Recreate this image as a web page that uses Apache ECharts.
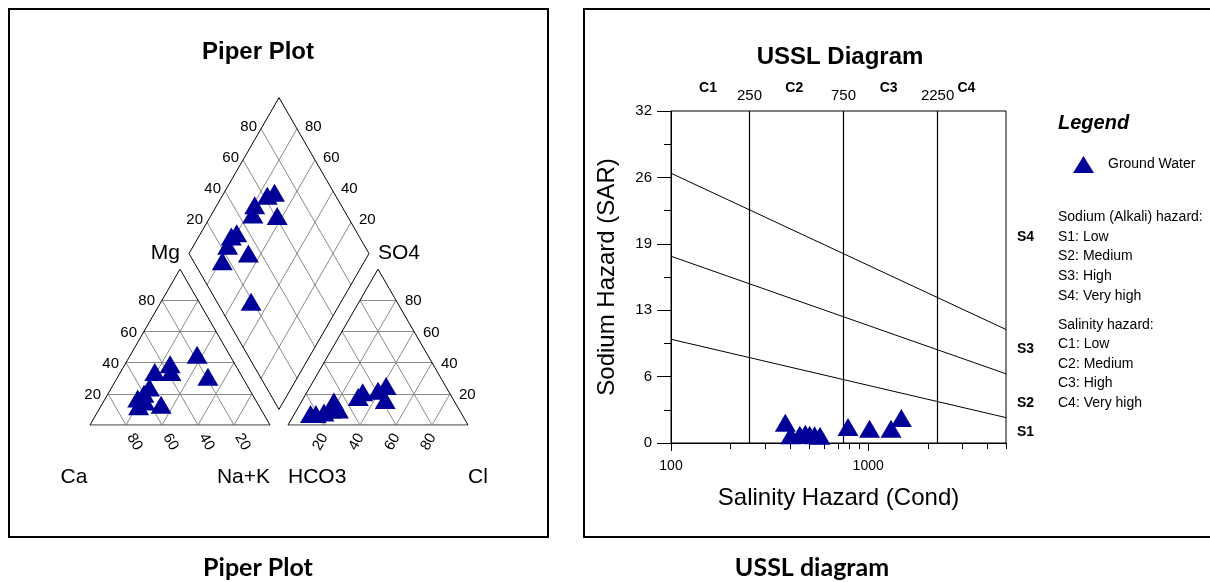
<!DOCTYPE html>
<html>
<head>
<meta charset="utf-8">
<script src="https://cdn.jsdelivr.net/npm/echarts@6/dist/echarts.min.js"></script>
<style>
  html, body { margin: 0; padding: 0; background: #fff; }
  #chart { width: 1210px; height: 582px; }
</style>
</head>
<body>
<div id="chart"></div>
<script>
// ---- Piper plot: ion percentages (meq %) per groundwater sample ----
const ca   = [38, 36, 55, 62, 18, 60, 65, 47, 54, 67, 19];
const mg   = [34, 39, 24, 15, 45, 20, 17, 34, 13, 12, 31];
const naK  = [28, 25, 21, 23, 37, 20, 18, 19, 33, 21, 50];
const hco3 = [33, 38, 48, 52, 39, 67, 71, 76, 67, 84, 81];
const so4  = [25, 16, 21, 18, 22, 10, 10,  8, 15,  7,  7];
const cl   = [42, 46, 31, 30, 39, 23, 19, 16, 18,  9, 12];
const piperTicks = [20, 40, 60, 80];
const ionNames = { ca: 'Ca', mg: 'Mg', naK: 'Na+K', hco3: 'HCO3', so4: 'SO4', cl: 'Cl' };

// ---- USSL diagram: conductivity (µS/cm) and SAR per sample ----
const ec  = [380, 405, 450, 480, 505, 535, 570, 790, 1016, 1306, 1473];
const sar = [1.95, 0.75, 0.8, 0.9, 0.8, 0.75, 0.7, 1.54, 1.38, 1.38, 2.4];
const sarLabelTicks = [0, 6.4, 12.8, 19.2, 25.6, 32];
const ecLabelled = [100, 1000];
const ecMinorTicks = [200, 300, 400, 500, 600, 700, 800, 900, 2000, 3000, 4000, 5000];
const salinityBounds = [250, 750, 2250];
const salinityClasses = ['C1', 'C2', 'C3', 'C4'];
const salinityClassAt = [154, 422, 1270, 3150];
// sodium hazard class boundaries: SAR at EC = 100 and EC = 5000
const sodiumBounds = [
  [[100, 26.0], [5000, 10.94]],
  [[100, 18.0], [5000, 6.67]],
  [[100, 10.0], [5000, 2.45]]
];
const sodiumClasses = ['S4', 'S3', 'S2', 'S1'];
const sodiumHazardText = ['Sodium (Alkali) hazard:', 'S1: Low', 'S2: Medium', 'S3: High', 'S4: Very high'];
const salinityHazardText = ['Salinity hazard:', 'C1: Low', 'C2: Medium', 'C3: High', 'C4: Very high'];

const FONT = '"Liberation Sans", Arial, Helvetica, sans-serif';
const NAVY = '#000099';
const GREY = '#8a8a8a';

// Piper geometry in percent units (triangle side = 100)
const GAP = 10;
const H = Math.sqrt(3) / 2;
const PX = 1.8;                       // pixels per percent unit
const catPt = (c, m, n) => [n + m / 2, m * H];
const aniPt = (h, s, l) => [100 + GAP + l + s / 2, s * H];
const diaPt = (cm, sc) => [100 + GAP / 2 + (sc - cm) / 2, (GAP + cm + sc) * H];

const greyLines = [];
piperTicks.forEach(t => {
  greyLines.push([catPt(100 - t, t, 0), catPt(0, t, 100 - t)]);
  greyLines.push([catPt(100 - t, 0, t), catPt(0, 100 - t, t)]);
  greyLines.push([catPt(t, 0, 100 - t), catPt(t, 100 - t, 0)]);
  greyLines.push([aniPt(100 - t, t, 0), aniPt(0, t, 100 - t)]);
  greyLines.push([aniPt(100 - t, 0, t), aniPt(0, 100 - t, t)]);
  greyLines.push([aniPt(t, 0, 100 - t), aniPt(t, 100 - t, 0)]);
  greyLines.push([diaPt(t, 0), diaPt(t, 100)]);
  greyLines.push([diaPt(0, t), diaPt(100, t)]);
});
const edgeLines = [
  [catPt(100, 0, 0), catPt(0, 100, 0)], [catPt(0, 0, 100), catPt(0, 100, 0)],
  [aniPt(100, 0, 0), aniPt(0, 100, 0)], [aniPt(0, 0, 100), aniPt(0, 100, 0)],
  [diaPt(0, 0), diaPt(100, 0)], [diaPt(100, 0), diaPt(100, 100)],
  [diaPt(100, 100), diaPt(0, 100)], [diaPt(0, 100), diaPt(0, 0)]
];
const baseLines = [
  [catPt(100, 0, 0), catPt(0, 0, 100)],
  [aniPt(100, 0, 0), aniPt(0, 0, 100)]
];

const cationPts = ca.map((c, i) => catPt(c, mg[i], naK[i]));
const anionPts = hco3.map((h, i) => aniPt(h, so4[i], cl[i]));
const diamondPts = ca.map((c, i) => diaPt(c + mg[i], so4[i] + cl[i]));

function linesSeries(segs, color, width, axis) {
  return {
    type: 'lines', coordinateSystem: 'cartesian2d', xAxisIndex: axis, yAxisIndex: axis,
    polyline: false, silent: true, z: 2,
    lineStyle: { color: color, width: width, opacity: 1 },
    data: segs.map(s => ({ coords: s }))
  };
}

function labelSeries(items, opt) {
  const ax = opt.axis || 0;
  return {
    type: 'scatter', xAxisIndex: ax, yAxisIndex: ax, silent: true, clip: false, z: 5,
    symbol: 'circle', symbolSize: 1, itemStyle: { color: 'rgba(0,0,0,0)', opacity: 1 },
    data: items.map(([p, text]) => ({
      value: [p[0] + (opt.dx || 0) / PX, p[1] - (opt.dy || 0) / PX], name: text
    })),
    label: {
      show: true, position: 'inside', align: opt.align || 'center', verticalAlign: 'middle',
      rotate: opt.rotate || 0, color: '#000', opacity: 1, fontSize: opt.size || 15,
      fontWeight: opt.weight || 'normal', fontFamily: FONT, formatter: '{b}'
    }
  };
}

function markerSeries(pts, axis, name) {
  return {
    type: 'scatter', name: name, xAxisIndex: axis, yAxisIndex: axis, clip: false, z: 6,
    symbol: 'triangle', symbolSize: [21, 18], itemStyle: { color: NAVY, opacity: 1 },
    data: pts
  };
}

function tickSeries(values, len) {
  return {
    type: 'custom', xAxisIndex: 1, yAxisIndex: 1, silent: true, clip: false, z: 3,
    data: values.map(v => [v, 0]),
    renderItem: (params, api) => {
      const p = api.coord([api.value(0), api.value(1)]);
      const x = Math.round(p[0]) + 0.5;
      return { type: 'line', shape: { x1: x, y1: p[1], x2: x, y2: p[1] + len },
               style: { stroke: '#000', lineWidth: 1 } };
    }
  };
}

function topLabelSeries(items, distance, size, weight) {
  return {
    type: 'scatter', xAxisIndex: 1, yAxisIndex: 1, silent: true, clip: false, z: 5,
    symbol: 'circle', symbolSize: 1, itemStyle: { color: 'rgba(0,0,0,0)', opacity: 1 },
    data: items,
    label: { show: true, position: 'top', distance: distance, color: '#000', opacity: 1,
             fontSize: size, fontWeight: weight, fontFamily: FONT, formatter: '{b}' }
  };
}

const series = [
  // Piper: grid, frame, labels, samples
  linesSeries(greyLines, GREY, 1, 0),
  linesSeries(baseLines, '#6e6e6e', 1.6, 0),
  linesSeries(edgeLines, '#000', 1, 0),
  labelSeries(piperTicks.map(t => [catPt(100 - t, t, 0), String(t)]), { align: 'right', dx: -7, dy: 1 }),
  labelSeries(piperTicks.map(t => [catPt(t, 0, 100 - t), String(t)]), { rotate: -60, dx: 8.5, dy: 17 }),
  labelSeries(piperTicks.map(t => [aniPt(100 - t, 0, t), String(t)]), { rotate: 60, dx: -3.5, dy: 17 }),
  labelSeries(piperTicks.map(t => [aniPt(0, t, 100 - t), String(t)]), { align: 'left', dx: 9, dy: 1 }),
  labelSeries(piperTicks.map(t => [diaPt(100, t), String(t)]), { align: 'right', dx: -4, dy: -2 }),
  labelSeries(piperTicks.map(t => [diaPt(t, 100), String(t)]), { align: 'left', dx: 8, dy: -2 }),
  labelSeries([[diaPt(100, 0), ionNames.mg]], { align: 'right', dx: -9, size: 21 }),
  labelSeries([[diaPt(0, 100), ionNames.so4]], { align: 'left', dx: 9, size: 21 }),
  labelSeries([[catPt(100, 0, 0), ionNames.ca]], { dx: -16, dy: 52, size: 21 }),
  labelSeries([[catPt(0, 0, 100), ionNames.naK]], { align: 'right', dy: 52, size: 21 }),
  labelSeries([[aniPt(100, 0, 0), ionNames.hco3]], { align: 'left', dy: 52, size: 21 }),
  labelSeries([[aniPt(0, 0, 100), ionNames.cl]], { align: 'left', dy: 52, size: 21 }),
  markerSeries(cationPts, 0, 'Cations'),
  markerSeries(anionPts, 0, 'Anions'),
  markerSeries(diamondPts, 0, 'Combined'),

  // USSL: class boundaries, ticks, labels, samples
  linesSeries(sodiumBounds, '#000', 1, 1),
  linesSeries(salinityBounds.map(v => [[v, 0], [v, 32]]), '#000', 1.2, 1),
  tickSeries(ecLabelled, 8),
  tickSeries(ecMinorTicks, 6),
  topLabelSeries(salinityBounds.map(v => ({ value: [v, 32], name: String(v) })), 7, 15, 'normal'),
  topLabelSeries(salinityClassAt.map((v, i) => ({ value: [v, 32], name: salinityClasses[i] })), 15, 14, 'bold'),
  markerSeries(ec.map((v, i) => [v, sar[i]]), 1, 'Ground Water')
];

// legend block, class tags, frames and captions
const graphic = [
  { type: 'rect', silent: true, shape: { x: 9, y: 9, width: 539, height: 528 },
    style: { fill: 'none', stroke: '#000', lineWidth: 2 } },
  { type: 'rect', silent: true, shape: { x: 584, y: 9, width: 700, height: 528 },
    style: { fill: 'none', stroke: '#000', lineWidth: 2 } },
  { type: 'text', x: 258, y: 52, silent: true,
    style: { text: 'Piper Plot', font: 'bold 24px ' + FONT, align: 'center', verticalAlign: 'middle', fill: '#000' } },
  { type: 'text', x: 840, y: 57, silent: true,
    style: { text: 'USSL Diagram', font: 'bold 24px ' + FONT, align: 'center', verticalAlign: 'middle', fill: '#000' } },
  { type: 'text', x: 258, y: 568, silent: true,
    style: { text: 'Piper Plot', font: 'bold 25px Lato, "Open Sans", sans-serif', align: 'center', verticalAlign: 'middle', fill: '#000' } },
  { type: 'text', x: 812, y: 568, silent: true,
    style: { text: 'USSL diagram', font: 'bold 25px Lato, "Open Sans", sans-serif', align: 'center', verticalAlign: 'middle', fill: '#000' } },
  { type: 'text', x: 1058, y: 123, silent: true,
    style: { text: 'Legend', font: 'italic bold 20px ' + FONT, align: 'left', verticalAlign: 'middle', fill: '#000' } }
];
const sodiumTagY = [237, 349, 403, 432];
sodiumClasses.forEach((s, i) => graphic.push({
  type: 'text', x: 1017, y: sodiumTagY[i], silent: true,
  style: { text: s, font: 'bold 14px ' + FONT, align: 'left', verticalAlign: 'middle', fill: '#000' }
}));
sodiumHazardText.forEach((s, i) => graphic.push({
  type: 'text', x: 1058, y: 217 + i * 19.7, silent: true,
  style: { text: s, font: '14px ' + FONT, align: 'left', verticalAlign: 'middle', fill: '#000' }
}));
salinityHazardText.forEach((s, i) => graphic.push({
  type: 'text', x: 1058, y: 325 + i * 19.5, silent: true,
  style: { text: s, font: '14px ' + FONT, align: 'left', verticalAlign: 'middle', fill: '#000' }
}));

const chart = echarts.init(document.getElementById('chart'), null, { renderer: 'canvas' });
chart.setOption({
  animation: false,
  backgroundColor: '#fff',
  textStyle: { fontFamily: FONT, color: '#000' },
  legend: {
    data: ['Ground Water'], left: 1068, top: 151, icon: 'triangle',
    itemWidth: 21, itemHeight: 17, selectedMode: false,
    textStyle: { fontSize: 14, fontFamily: FONT, color: '#000', padding: [0, 0, 0, 9] }
  },
  grid: [
    { left: 90, top: 83, width: 378, height: 342, show: false, outerBoundsMode: 'none' },
    { left: 671, top: 111, width: 335, height: 332, show: true, borderColor: '#000',
      borderWidth: 1, backgroundColor: 'transparent', outerBoundsMode: 'none' }
  ],
  xAxis: [
    { gridIndex: 0, type: 'value', min: 0, max: 210, show: false },
    {
      gridIndex: 1, type: 'log', logBase: 10, min: 100, max: 5000,
      axisLine: { show: true, lineStyle: { color: '#000', width: 1 } },
      axisTick: { show: false }, splitLine: { show: false },
      axisLabel: {
        color: '#000', fontSize: 14, margin: 16, fontFamily: FONT,
        formatter: v => ecLabelled.includes(Math.round(v)) ? String(Math.round(v)) : ''
      },
      name: 'Salinity Hazard (Cond)', nameLocation: 'middle', nameGap: 43,
      nameTextStyle: { fontSize: 24, color: '#000', fontFamily: FONT }
    }
  ],
  yAxis: [
    { gridIndex: 0, type: 'value', min: 0, max: 190, show: false },
    {
      gridIndex: 1, type: 'value', min: 0, max: 32, interval: sarLabelTicks[1],
      axisLine: { show: true, lineStyle: { color: '#000', width: 1 } },
      axisTick: { show: true, length: 14, lineStyle: { color: '#000' } },
      minorTick: { show: true, splitNumber: 2, length: 7, lineStyle: { color: '#000' } },
      splitLine: { show: false }, minorSplitLine: { show: false },
      axisLabel: { color: '#000', fontSize: 15, margin: 19, fontFamily: FONT,
                   formatter: v => String(Math.round(v)) },
      name: 'Sodium Hazard (SAR)', nameLocation: 'middle', nameGap: 52,
      nameTextStyle: { fontSize: 24, color: '#000', fontFamily: FONT }
    }
  ],
  series: series,
  graphic: graphic
});
</script>
</body>
</html>
